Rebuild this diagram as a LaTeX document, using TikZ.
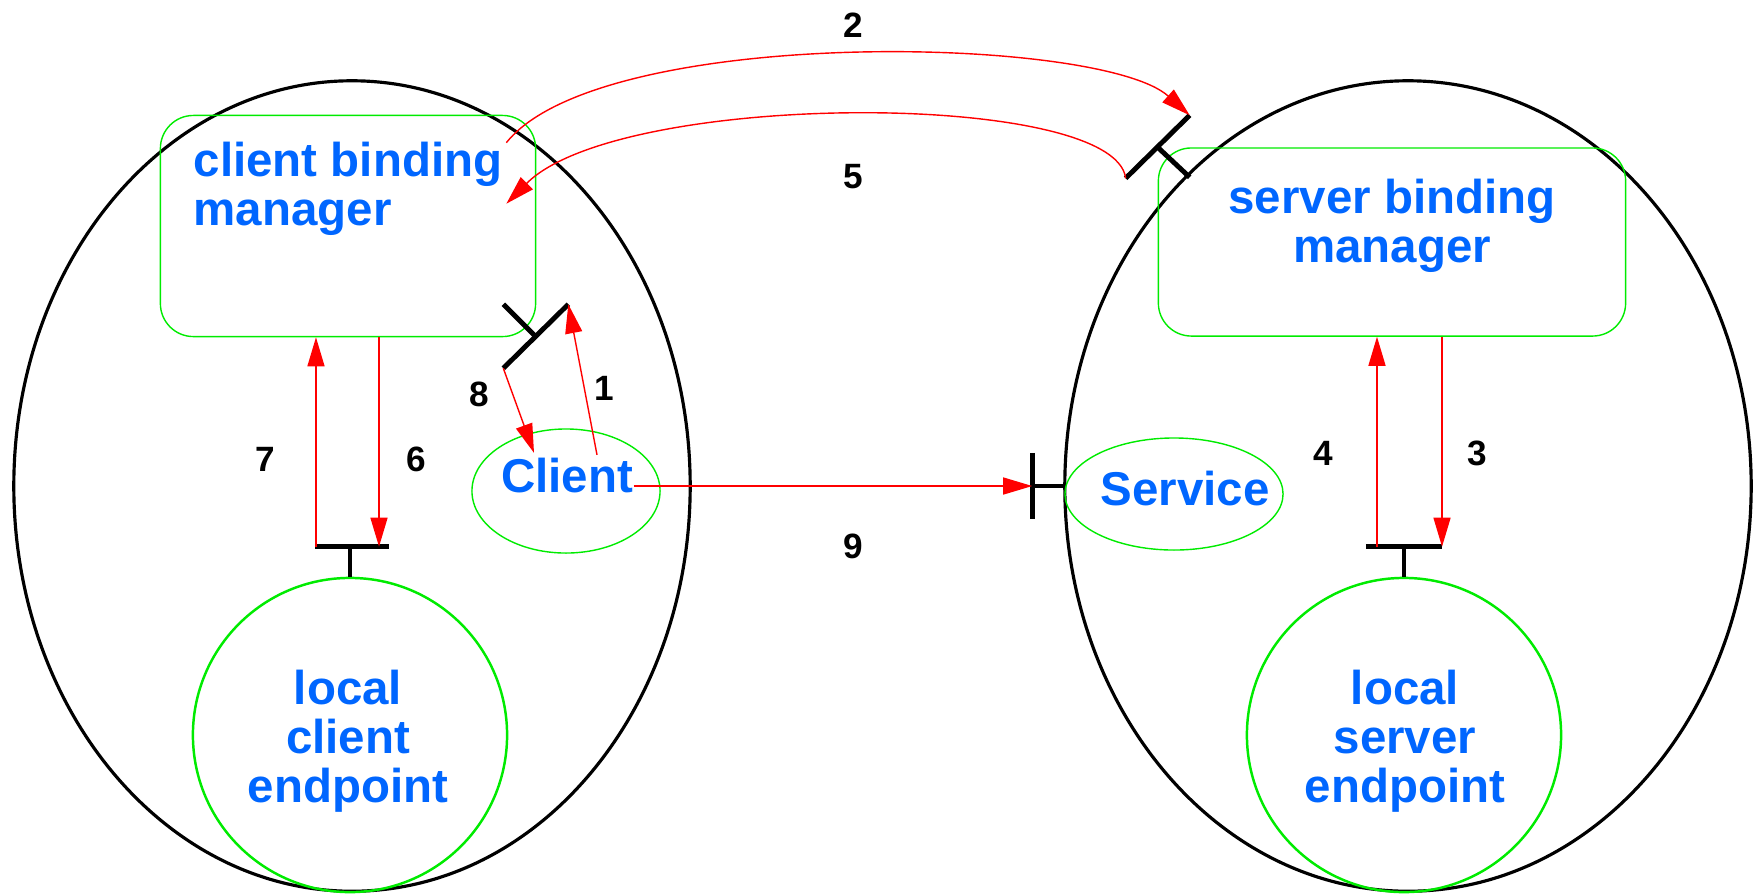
\documentclass[tikz,border=0pt]{standalone}
\usepackage{fontspec}
\setmainfont{Liberation Sans}
\usepackage{tikz}
\usetikzlibrary{positioning, arrows.meta, shapes}
\definecolor{textblue}{RGB}{0,102,255}
\definecolor{linegreen}{RGB}{0,235,0}
\tikzstyle{hostEllipse} = [
    ellipse,
    draw,
    line width=0.9pt,
    inner sep=0pt
    ]
\tikzstyle{managerBox} = [
    rectangle,
    draw=linegreen,
    line width=0.4pt,
    rounded corners=3.3mm
    ]
\tikzstyle{processEllipse} = [
    ellipse,
    draw=linegreen,
    line width=0.4pt,
    inner sep=0pt
    ]
\tikzstyle{endpointCircle} = [
    circle,
    draw=linegreen,
    line width=0.7pt,
    minimum size=3.14cm,
    inner sep=0pt
    ]
\tikzstyle{blueText} = [
    text=textblue,
    font=\bfseries\fontsize{13.5}{14}\selectfont,
    inner sep=0pt
    ]
\tikzstyle{stepNumber} = [
    font=\bfseries\fontsize{10}{12}\selectfont,
    inner sep=0pt
    ]
\tikzstyle{message} = [
    draw=red,
    line width=0.4pt,
    -{Triangle[length=2.9mm, width=1.7mm]}
    ]
\tikzstyle{tee} = [
    line width=1.4pt
    ]

\begin{document}
\begin{tikzpicture}[x=0.01cm, y=-0.01cm]
      \useasboundingbox (0,0) rectangle (1754,893);
      % hosts
      \node[hostEllipse, minimum width=6.76cm, minimum height=8.1cm] at (352,486) (clienthost) {};
      \node[hostEllipse, minimum width=6.86cm, minimum height=8.1cm] at (1408,486) (serverhost) {};
      % boxes, processes and endpoints
      \node[managerBox, minimum width=3.75cm, minimum height=2.21cm] at (348,226) (cbm) {};
      \node[managerBox, minimum width=4.67cm, minimum height=1.88cm] at (1392,242) (sbm) {};
      \node[processEllipse, minimum width=1.88cm, minimum height=1.24cm] at (566,491) (client) {};
      \node[processEllipse, minimum width=2.18cm, minimum height=1.12cm] at (1174,494) (service) {};
      \node[endpointCircle] at (350,735) (lce) {};
      \node[endpointCircle] at (1404,735) (lse) {};
      \node[blueText, align=left] at (348,189) (cbmtext) {client binding\\manager};
      \node[blueText, align=center] at (1392,226) (sbmtext) {server binding\\manager};
      \node[blueText] at (567,476) (clientname) {Client};
      \node[blueText] at (1185,489) (servicename) {Service};
      \node[blueText, align=center] at (348,741) (lcetext) {local\\client\\endpoint};
      \node[blueText, align=center] at (1405,741) (lsetext) {local\\server\\endpoint};
      % tees
      \coordinate (t8) at ([shift={(-33,31)}]cbm.south east);
      \coordinate (t1) at ([shift={(32,-33)}]cbm.south east);
      \draw[tee] (t8) -- (t1);
      \draw[tee] (cbm.south east) -- ++(-33,-33);
      \coordinate (t5) at ([shift={(-32,31)}]sbm.north west);
      \coordinate (t2) at ([shift={(32,-32)}]sbm.north west);
      \draw[tee] (t5) -- (t2);
      \draw[tee] (sbm.north west) -- ++(32,30);
      \draw[tee] (lce.north) -- ++(0,-30) coordinate (lcetee);
      \draw[tee] ([xshift=-3.5mm]lcetee) -- ([xshift=3.9mm]lcetee);
      \coordinate (t7) at ([xshift=-3.4mm]lcetee);
      \coordinate (t6) at ([xshift=2.9mm]lcetee);
      \draw[tee] (lse.north) -- ++(0,-30) coordinate (lsetee);
      \draw[tee] ([xshift=-3.8mm]lsetee) -- ([xshift=3.8mm]lsetee);
      \coordinate (t4) at ([xshift=-2.7mm]lsetee);
      \coordinate (t3) at ([xshift=3.8mm]lsetee);
      \coordinate (t9) at ([shift={(-32,-8)}]service.west);
      \draw[tee] ([yshift=3.3mm]t9) -- ([yshift=-3.3mm]t9);
      \draw[tee] (t9) -- (t9 -| service.west);
      % messages
      \draw[message] ([shift={(30,-3)}]clientname.north) -- (t1);
      \draw[message] ([shift={(-30,28)}]cbm.north east) .. controls (600,25) and (1100,35) .. (t2);
      \draw[message] (t3 |- sbm.south) -- (t3);
      \draw[message] (t4) -- (t4 |- sbm.south);
      \draw[message] (t5) .. controls (1115,90) and (620,90) .. ([shift={(-30,89)}]cbm.north east);
      \draw[message] (t6 |- cbm.south) -- (t6);
      \draw[message] (t7) -- (t7 |- cbm.south);
      \draw[message] (t8) -- ([shift={(-33,-5)}]clientname.north);
      \draw[message] (clientname.east |- t9) -- (t9);
      % step numbers
      \node[stepNumber] at (604,388) (step1) {1};
      \node[stepNumber] at (853,25) (step2) {2};
      \node[stepNumber] at (1477,453) (step3) {3};
      \node[stepNumber] at (1323,453) (step4) {4};
      \node[stepNumber] at (853,177) (step5) {5};
      \node[stepNumber] at (416,459) (step6) {6};
      \node[stepNumber] at (265,459) (step7) {7};
      \node[stepNumber] at (479,394) (step8) {8};
      \node[stepNumber] at (853,546) (step9) {9};
\end{tikzpicture}
\end{document}
